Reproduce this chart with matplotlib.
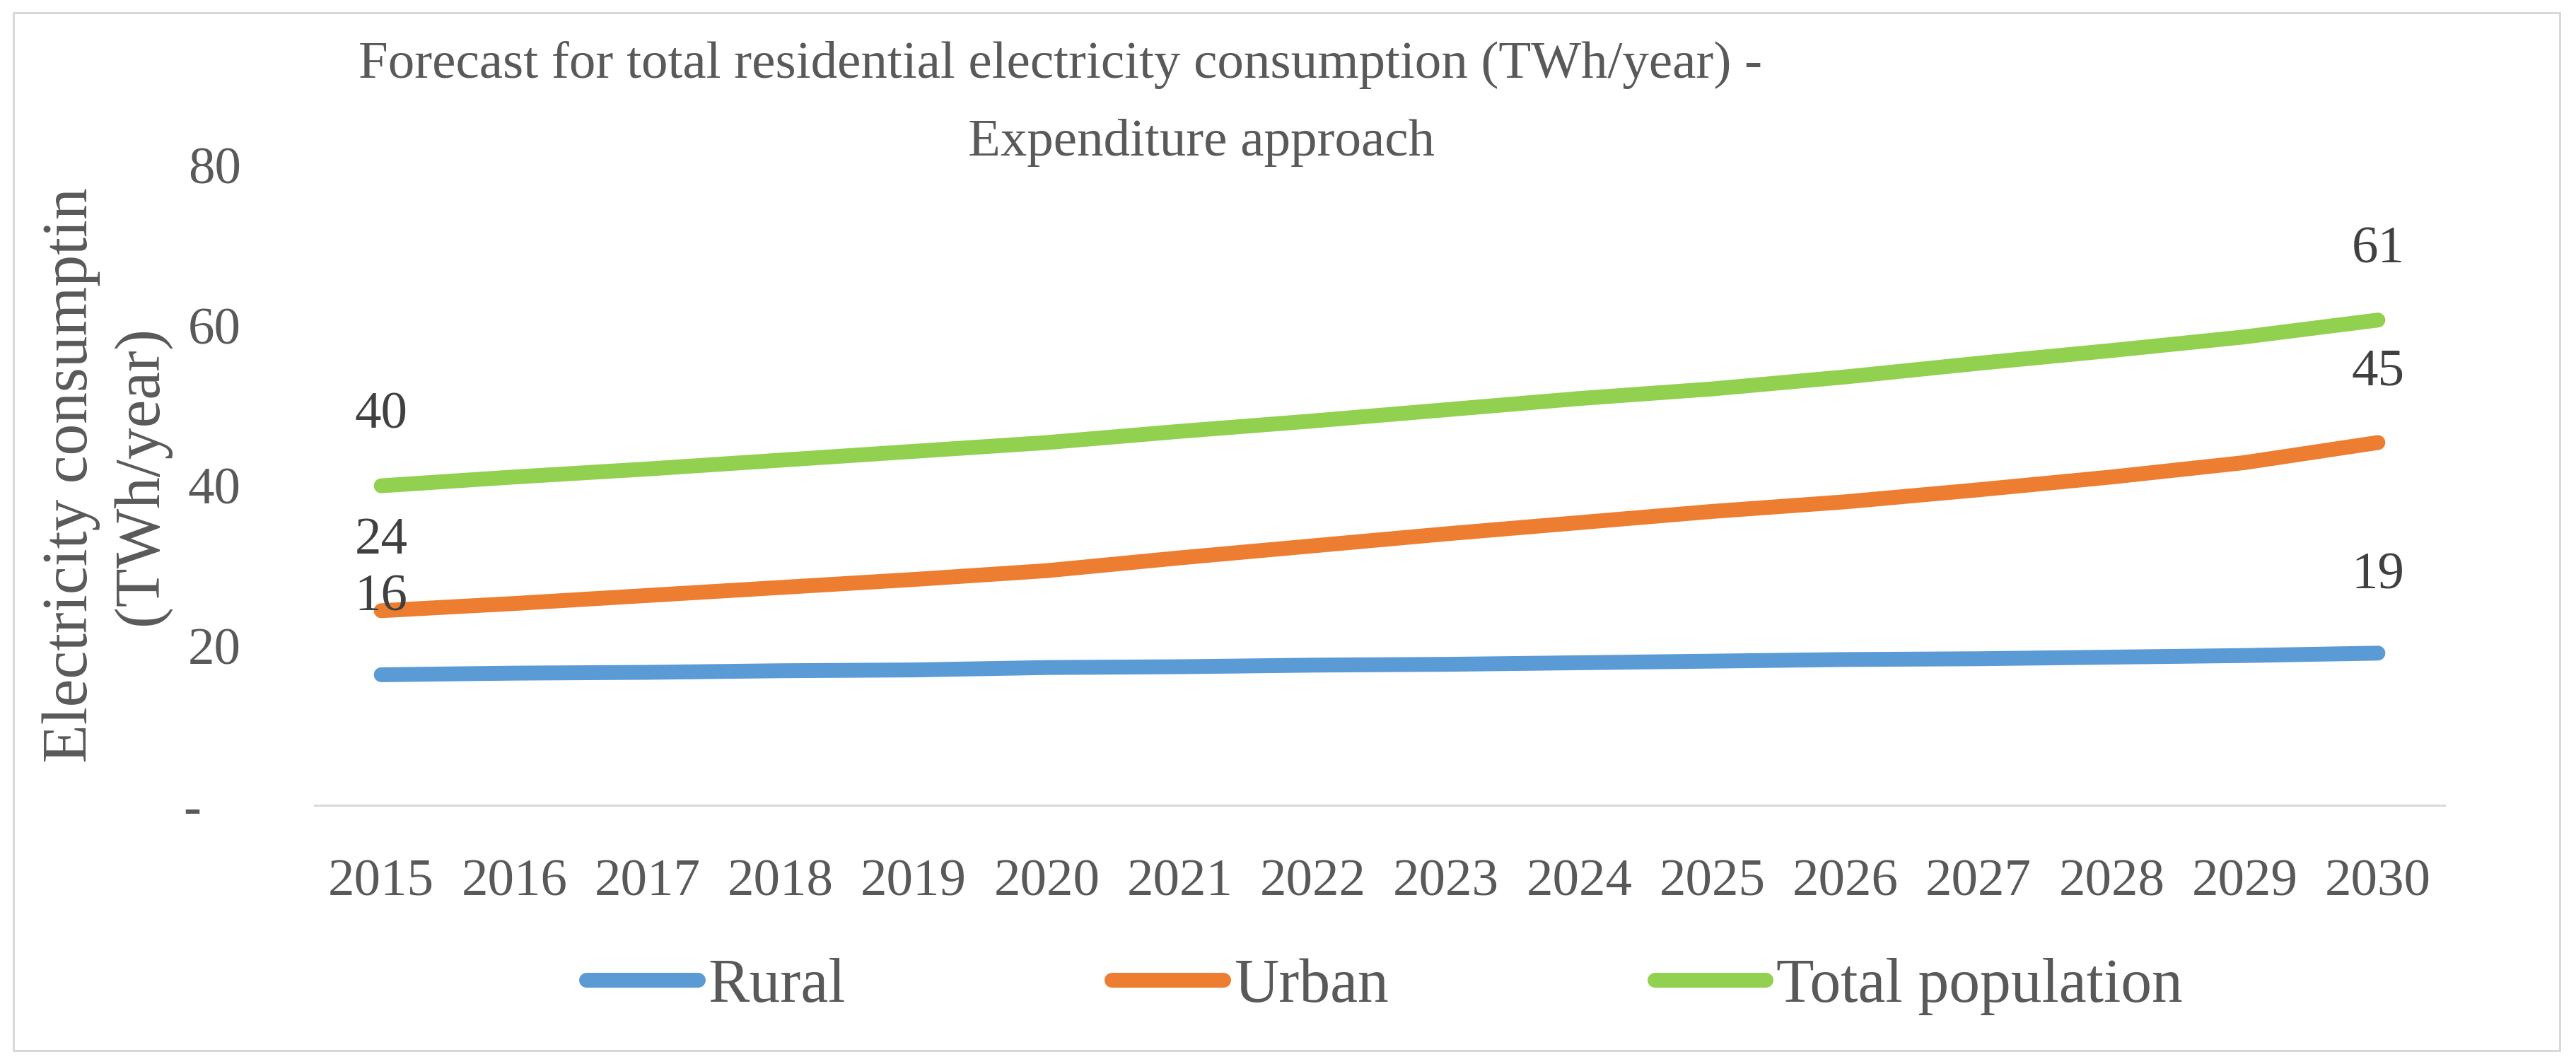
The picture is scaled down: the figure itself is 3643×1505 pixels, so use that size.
import matplotlib
matplotlib.use('Agg')
import matplotlib.pyplot as plt
from matplotlib.patches import Rectangle

# --- Data ---
years = [str(y) for y in range(2015, 2031)]
rural = [16.3, 16.5, 16.6, 16.8, 16.9, 17.2, 17.3, 17.5, 17.6, 17.8, 18.0, 18.2, 18.3, 18.5, 18.7, 19.0]
urban = [24.3, 25.2, 26.2, 27.2, 28.2, 29.3, 30.9, 32.4, 33.9, 35.3, 36.7, 37.9, 39.4, 41.0, 42.8, 45.3]
total = [39.9, 41.0, 42.0, 43.1, 44.2, 45.3, 46.7, 48.0, 49.4, 50.8, 52.0, 53.5, 55.2, 56.8, 58.5, 60.6]
yticks = [0, 20, 40, 60, 80]
ytick_labels = ['-   ', '20', '40', '60', '80']

series = [('Rural', rural, '#5B9BD5'),
          ('Urban', urban, '#ED7D31'),
          ('Total population', total, '#92D050')]

# --- Style ---
W, H, DPI = 3643, 1506, 300
FS = 18
FS_LEG = 21
FS_YLAB = 21.5
TXT = '#595959'
LAB = '#404040'
plt.rcParams['font.family'] = ['Liberation Serif', 'DejaVu Serif']

fig = plt.figure(figsize=(W / DPI, H / DPI), dpi=DPI)
fig.patch.set_facecolor('white')

# axes placed in pixel coordinates of the reference
left, right, bottom, top = 445, 3457, 1140, 234
ax = fig.add_axes([left / W, 1 - bottom / H, (right - left) / W, (bottom - top) / H])

x = list(range(len(years)))
px2pt = 72 / DPI
for name, vals, col in series:
    ax.plot(x, vals, color=col, lw=21 * px2pt, solid_capstyle='round',
            solid_joinstyle='round', label=name)
    off = 110 if name == 'Rural' else 100
    for i in (0, len(vals) - 1):
        ax.annotate(f'{vals[i]:.0f}', (x[i], vals[i]), xytext=(0, off * px2pt),
                    textcoords='offset points', ha='center', va='center',
                    fontsize=FS, color=LAB)

ax.set_xlim(-0.5, len(years) - 0.5)
ax.set_ylim(0, 80)
ax.set_xticks(x)
ax.set_xticklabels(years, fontsize=FS, color=TXT)
ax.set_yticks(yticks)
ax.set_yticklabels(ytick_labels, fontsize=FS, color=TXT)
ax.tick_params(axis='both', length=0)
ax.tick_params(axis='x', pad=18)
ax.tick_params(axis='y', pad=25)
for s in ['top', 'right', 'left']:
    ax.spines[s].set_visible(False)
ax.spines['bottom'].set_color('#D9D9D9')
ax.spines['bottom'].set_linewidth(3 * px2pt)

# y label (two lines, rotated)
fig.text(150 / W, 1 - 672 / H, 'Electricity consumptin\n(TWh/year)', rotation=90,
         ha='center', va='center', fontsize=FS_YLAB, color=TXT,
         multialignment='center', linespacing=1.25)

# title, two lines as in the reference
fig.text(1500 / W, 1 - 92 / H,
         'Forecast for total residential electricity consumption (TWh/year) -',
         ha='center', va='center', fontsize=FS, color=TXT)
fig.text(1699 / W, 1 - 202 / H, 'Expenditure approach',
         ha='center', va='center', fontsize=FS, color=TXT)

# legend
leg = fig.legend(loc='center', bbox_to_anchor=(1958 / W, 1 - 1396 / H), ncol=3,
                 frameon=False, fontsize=FS_LEG, handlelength=1.8,
                 handletextpad=0.17, columnspacing=4.3)
for t in leg.get_texts():
    t.set_color(TXT)

# outer chart border
fig.patches.append(Rectangle((19 / W, 19 / H), (3620 - 19) / W, (1487 - 19) / H,
                             transform=fig.transFigure, fill=False,
                             edgecolor='#D9D9D9', lw=3 * px2pt))

fig.savefig('out.png', dpi=DPI)
